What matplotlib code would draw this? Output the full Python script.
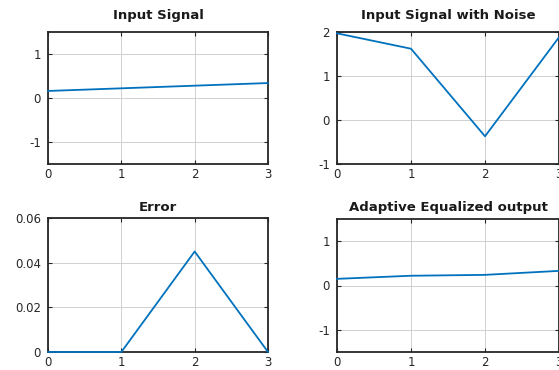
import matplotlib
matplotlib.use("Agg")
import matplotlib.pyplot as plt

n = [0, 1, 2, 3]
input_signal = [0.16, 0.22, 0.28, 0.34]
noisy_signal = [1.97, 1.62, -0.37, 1.88]
error = [0.0, 0.0, 0.045, 0.0]
equalized = [0.15, 0.22, 0.24, 0.33]

titles = ["Input Signal", "Input Signal with Noise", "Error", "Adaptive Equalized output"]
series = [input_signal, noisy_signal, error, equalized]
ylims = [(-1.5, 1.5), (-1, 2), (0, 0.06), (-1.5, 1.5)]
yticks = [[-1, 0, 1], [-1, 0, 1, 2], [0, 0.02, 0.04, 0.06], [-1, 0, 1]]
yticklabels = [["-1", "0", "1"], ["-1", "0", "1", "2"], ["0", "0.02", "0.04", "0.06"], ["-1", "0", "1"]]

W, H = 559, 370
fig = plt.figure(figsize=(W / 100, H / 100), dpi=100)
# pixel boxes: left, top, right, bottom
boxes = [(48, 32, 268, 164), (337, 32, 559, 164), (48, 218, 268, 352), (337, 219, 559, 352)]
title_pads = [9, 9, 5, 6]

for i in range(4):
    l, t, r, b = boxes[i]
    ax = fig.add_axes([l / W, 1 - b / H, (r - l) / W, (b - t) / H])
    ax.plot(n, series[i], color="#0072BD", lw=1.3, zorder=3, clip_on=False)
    ax.set_xlim(0, 3)
    ax.set_ylim(*ylims[i])
    ax.set_xticks(n)
    ax.set_yticks(yticks[i])
    ax.set_yticklabels(yticklabels[i])
    ax.grid(True, color="#d0d0d0", lw=0.7)
    ax.tick_params(direction="in", length=3, top=True, right=True, labelsize=8.5, colors="#262626", pad=3)
    ax.tick_params(axis="y", pad=5)
    for s in ax.spines.values():
        s.set_color("#262626")
        s.set_linewidth(1.3)
    ax.set_title(titles[i], fontsize=9.5, fontweight="bold", color="#1a1a1a", pad=title_pads[i])

fig.savefig("out.png", dpi=100)
